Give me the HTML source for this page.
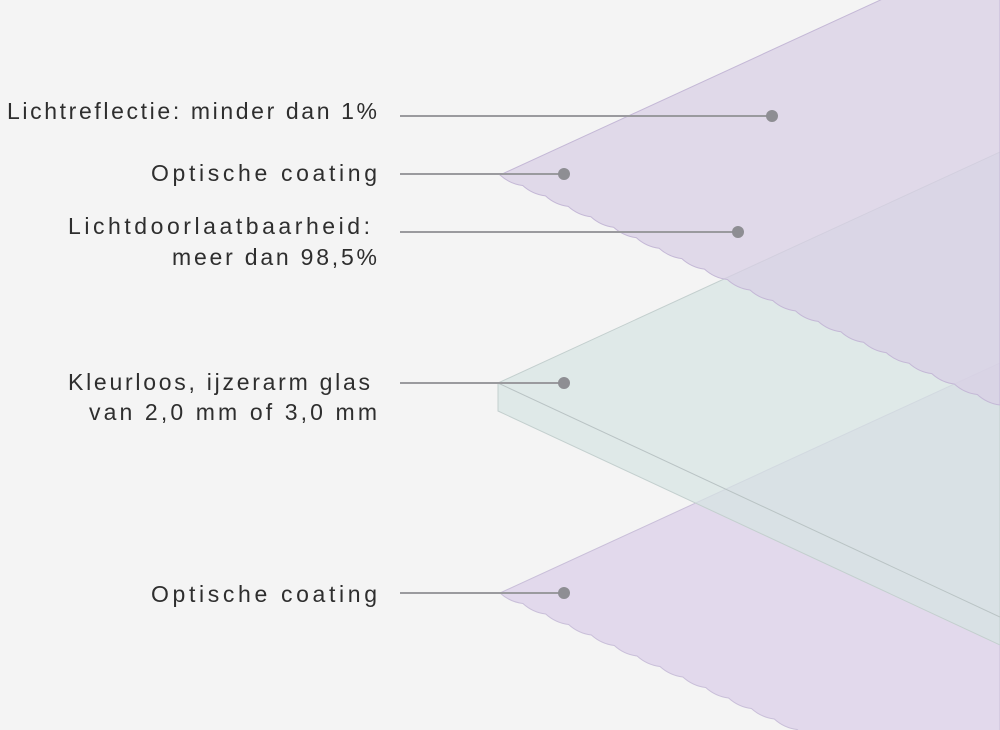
<!DOCTYPE html>
<html><head><meta charset="utf-8"><style>
html,body{margin:0;padding:0;background:#f4f4f4;}
svg{display:block}
text{font-family:"Liberation Sans",sans-serif;font-size:23px;fill:#2e2e2e;}
</style></head><body>
<svg id="s" width="1000" height="730" viewBox="0 0 1000 730" xmlns="http://www.w3.org/2000/svg">
<rect width="1000" height="730" fill="#f4f4f4"/>
<path id="bp" fill="rgba(222,212,234,0.85)" stroke="#c9bfd9" stroke-width="1"/>
<polygon points="498,383 1000,152 1000,645 498,411" fill="rgba(214,228,226,0.7)" stroke="#c3cfce" stroke-width="1"/>
<line x1="498" y1="383" x2="1000" y2="617" stroke="#b9c3c4" stroke-width="1"/>
<path id="tp" fill="rgba(216,206,228,0.72)" stroke="#c4b8d6" stroke-width="1"/>

<g stroke="#9a9a9e" stroke-width="2">
<line x1="400" y1="116" x2="772" y2="116"/>
<line x1="400" y1="174" x2="564" y2="174"/>
<line x1="400" y1="232" x2="738" y2="232"/>
<line x1="400" y1="383" x2="564" y2="383"/>
<line x1="400" y1="593" x2="564" y2="593"/>
</g>
<g fill="#8e8e93">
<circle cx="772" cy="116" r="6"/>
<circle cx="564" cy="174" r="6"/>
<circle cx="738" cy="232" r="6"/>
<circle cx="564" cy="383" r="6"/>
<circle cx="564" cy="593" r="6"/>
</g>
<text x="7" y="119" textLength="370" lengthAdjust="spacing">Lichtreflectie: minder dan 1%</text>
<text x="151" y="181" textLength="226" lengthAdjust="spacing">Optische coating</text>
<text x="68" y="234" textLength="302" lengthAdjust="spacing">Lichtdoorlaatbaarheid:</text>
<text x="172" y="265" textLength="205" lengthAdjust="spacing">meer dan 98,5%</text>
<text x="68" y="390" textLength="302" lengthAdjust="spacing">Kleurloos, ijzerarm glas</text>
<text x="89" y="420" textLength="288" lengthAdjust="spacing">van 2,0 mm of 3,0 mm</text>
<text x="151" y="602" textLength="226" lengthAdjust="spacing">Optische coating</text>
</svg>
<script>
function wave(x0,y0,x1,y1,n){
  var d="",dx=(x1-x0)/n,dy=(y1-y0)/n;
  var len=Math.hypot(dx,dy),nx=-dy/len,ny=dx/len;
  for(var i=0;i<n;i++){
    var ax=x0+dx*(i+1),ay=y0+dy*(i+1);
    var cx=x0+dx*(i+0.5)+nx*-4,cy=y0+dy*(i+0.5)+ny*-4;
    d+=" Q"+cx.toFixed(1)+","+cy.toFixed(1)+" "+ax.toFixed(1)+","+ay.toFixed(1);
  }
  return d;
}
var tp="M500,175 L1000,-55 L1000,405"+wave(1000,405,500,175,22)+" Z";
document.getElementById("tp").setAttribute("d",tp);
var bp="M500,593 L1000,363 L1000,740 L820,740"+wave(820,740,500,593,14)+" Z";
document.getElementById("bp").setAttribute("d",bp);
</script>
</body></html>
